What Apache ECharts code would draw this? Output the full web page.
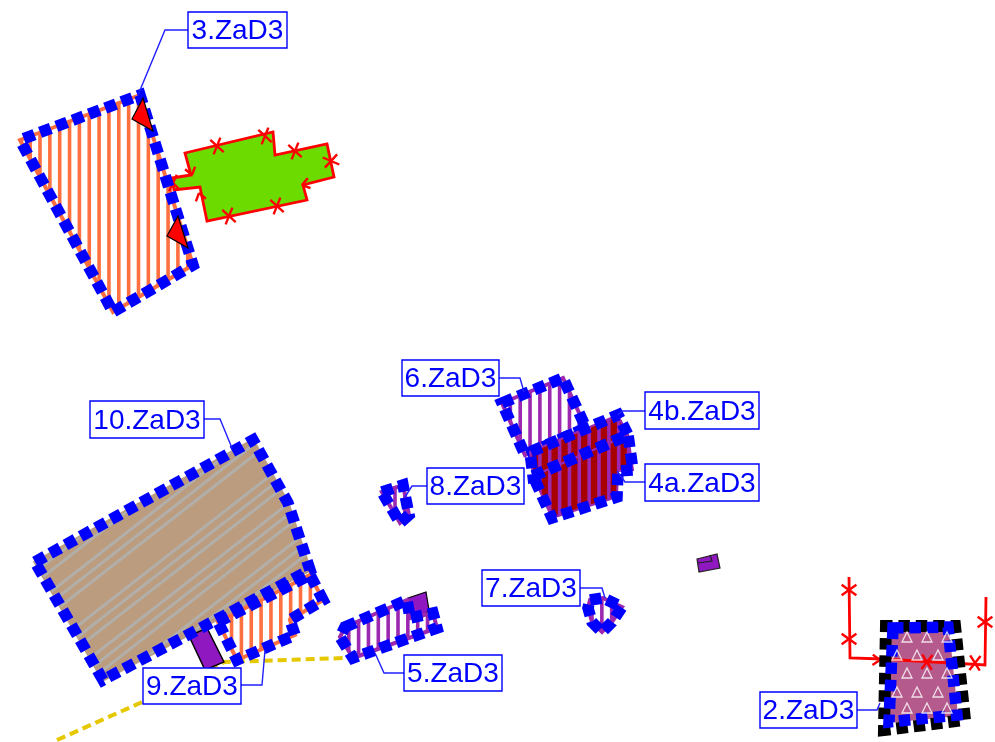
<!DOCTYPE html>
<html><head><meta charset="utf-8">
<style>html,body{margin:0;padding:0;background:#fff}#c{width:995px;height:742px}</style>
<script src="https://cdn.jsdelivr.net/npm/echarts@6/dist/echarts.min.js"></script>
</head><body><div id="c"></div>
<script>
// ---- data: map coordinates ----
const parcel2 = [[893,628],[948,627],[957,715],[889,722]];
const parcel2Outer = [[886,626],[955,626],[965,720],[884,730]];
const parcel3 = [[20,140],[140,95],[193,265],[113,312]];
const parcel4a = [[533,476],[628,435],[633,470],[618,471],[617,497],[552,518]];
const parcel4b = [[533,476],[628,435],[618,415],[530,452]];
const parcel5 = [[345,627],[407,600],[410,618],[433,613],[437,628],[353,658],[340,637]];
const parcel6 = [[502,403],[563,378],[586,428],[525,455]];
const parcel7 = [[590,600],[603,598],[622,607],[612,622],[602,632],[592,622],[588,608]];
const parcel8 = [[382,492],[403,485],[409,515],[400,523]];
const parcel9 = [[218,622],[310,575],[323,600],[290,620],[295,635],[237,660]];
const parcel10 = [[35,562],[253,440],[288,503],[310,570],[103,680]];
const greenBuilding = [[185,153],[273,132],[275,155],[327,144],[334,177],[303,185],[307,200],[207,221],[200,187],[174,190],[172,178],[191,175]];
const purpleA = [[189,636],[207,628],[224,662],[205,670]];
const purpleB = [[408,598],[426,592],[429,610],[422,618],[410,613]];
const purpleC = [[697,559],[717,554],[720,568],[699,572]];
const purpleCInner = [[698,563],[712,561],[710,555]];
const redTriangles = [[[143,98],[132,119],[153,131]],[[178,216],[167,236],[188,248]]];
const yellowRoad = [[57,740],[140,703],[205,670],[225,662],[345,658]];
const redLine = [[849,577],[850,658],[882,659],[985,665],[986,597]];
const crossMarks = [[217,146,-13],[265,136,-13],[295,151,-13],[331,161,78],[277,206,-13],[229,216,-13],[173,183,-10],[849,590,90],[849,639,90],[927,662,3],[975,663,3],[985,622,90]];
const arrowMarks = [[192,175,75],[302,185,165],[199,193,-105],[880,660,2]];
const triangleMarks = [[907,637],[927,637],[947,637],[897,655],[917,655],[938,655],[907,673],[927,673],[947,673],[897,692],[917,692],[938,692],[907,708],[927,708],[947,708]];
const grayHatch = [487,498,509,530,541,552,585,596,607,627,638,649,670,681,692];
const labelTexts = ['3.ZaD3','10.ZaD3','9.ZaD3','6.ZaD3','8.ZaD3','5.ZaD3','7.ZaD3','4b.ZaD3','4a.ZaD3','2.ZaD3'];
const labelBoxes = [[188,12,287,48],[90,401,204,438],[143,668,241,704],[402,360,499,396],[427,468,524,504],[404,655,502,691],[482,570,580,606],[645,392,759,429],[645,464,759,501],[760,692,857,728]];
const leaders = [
  [[188,30],[165,30],[138,95]],
  [[204,419],[220,419],[232,448]],
  [[241,685],[262,685],[265,650]],
  [[499,378],[520,378],[524,392]],
  [[427,486],[412,486],[405,497]],
  [[404,673],[384,673],[375,653]],
  [[580,588],[602,588],[605,598]],
  [[645,411],[622,411],[618,415]],
  [[645,482],[625,482],[617,471]],
  [[857,710],[877,710],[880,703]]
];

// ---- styles ----
const BLUE='#0000ff', ORANGE='#ff7040', PURPLE='#9c27b0', RED='#ff0000';
const DASH_ON=11.5, DASH_OFF=5.9, RING_W=11.5;
function custom(items, render){
  return {type:'custom',coordinateSystem:'cartesian2d',clip:false,silent:true,
    data:items.map((_,i)=>[i,0]),encode:{x:0,y:1},
    renderItem:(p,api)=>render(items[api.value(0)],api)};
}
const pts=(api,a)=>a.map(q=>api.coord(q));
function filled(poly,fill,stroke,lw){
  return custom([poly],(a,api)=>({type:'polygon',shape:{points:pts(api,a)},style:{fill,stroke,lineWidth:lw,lineJoin:'miter'}}));
}
function vHatch(poly,color,phase){
  return custom([poly],(a,api)=>{
    const P=pts(api,a), xs=P.map(q=>q[0]), ys=P.map(q=>q[1]);
    const y0=Math.min(...ys), y1=Math.max(...ys), kids=[];
    const step=9.85;
    for(let x=phase+Math.floor((Math.min(...xs)-phase)/step)*step;x<=Math.max(...xs);x+=step){
      kids.push({type:'line',shape:{x1:x,y1:y0,x2:x,y2:y1},style:{stroke:color,lineWidth:3.6}});
    }
    return {type:'group',clipPath:{type:'polygon',shape:{points:P}},children:kids};
  });
}
function ring(poly,color,offset){
  const lw=color==='#000'?12:RING_W;
  return custom([poly],(a,api)=>({type:'polygon',shape:{points:pts(api,a)},
    style:{fill:'none',stroke:color,lineWidth:lw,lineDash:[DASH_ON,DASH_OFF],lineDashOffset:offset||0,lineJoin:'miter',lineCap:'butt'}}));
}
function grayLines(){
  return custom([grayHatch],(cs,api)=>{
    const P=pts(api,parcel10), kids=cs.map(c=>{
      const a=api.coord([0,c+0.78*130]), b=api.coord([400,c-0.78*270]);
      return {type:'line',shape:{x1:a[0],y1:a[1],x2:b[0],y2:b[1]},style:{stroke:'#b2afaa',lineWidth:3}};
    });
    return {type:'group',clipPath:{type:'polygon',shape:{points:P}},children:kids};
  });
}
function crosses(items){
  return custom(items,(m,api)=>{
    const [x,y]=api.coord([m[0],m[1]]), L=9, kids=[];
    [55,-55].forEach(d=>{
      const t=(m[2]+d)*Math.PI/180,c=Math.cos(t)*L,s=Math.sin(t)*L;
      kids.push({type:'line',shape:{x1:x-c,y1:y-s,x2:x+c,y2:y+s},style:{stroke:RED,lineWidth:2.4}});
    });
    return {type:'group',children:kids};
  });
}
function arrows(items){
  return custom(items,(m,api)=>{
    const [x,y]=api.coord([m[0],m[1]]), L=9, kids=[];
    [145,-145].forEach(d=>{
      const t=(m[2]+d)*Math.PI/180;
      kids.push({type:'line',shape:{x1:x,y1:y,x2:x+Math.cos(t)*L,y2:y+Math.sin(t)*L},style:{stroke:RED,lineWidth:2.4}});
    });
    return {type:'group',children:kids};
  });
}
function polyline(items,stroke,lw,dash){
  return custom(items,(a,api)=>({type:'polyline',shape:{points:pts(api,a)},style:{fill:'none',stroke,lineWidth:lw,lineDash:dash||null}}));
}
function labels(){
  const items=labelTexts.map((t,i)=>({t,b:labelBoxes[i]}));
  return custom(items,(it,api)=>{
    const a=api.coord([it.b[0],it.b[1]]), b=api.coord([it.b[2],it.b[3]]);
    return {type:'group',children:[
      {type:'rect',shape:{x:a[0],y:a[1],width:b[0]-a[0],height:b[1]-a[1]},style:{fill:'#fff',stroke:BLUE,lineWidth:1.4}},
      {type:'text',style:{x:(a[0]+b[0])/2,y:(a[1]+b[1])/2+1.5,text:it.t,fill:BLUE,align:'center',verticalAlign:'middle',font:'28px "Liberation Sans", Arial, sans-serif'}}
    ]};
  });
}

const series=[
  polyline([yellowRoad],'#e6c800',4,[9,5]),
  // parcel 3 and green building
  vHatch(parcel3,ORANGE,0.6),
  filled(parcel3,'none',ORANGE,4),
  filled(greenBuilding,'#6cdc00',RED,2.8),
  crosses(crossMarks.slice(0,7)),
  arrows(arrowMarks.slice(0,3)),
  ring(parcel3,BLUE,-4),
  custom(redTriangles,(a,api)=>({type:'polygon',shape:{points:pts(api,a)},style:{fill:RED,stroke:'#000',lineWidth:1.2}})),
  // parcels 10, 9
  filled(parcel10,'#bc9c7e','#bc9c7e',3),
  grayLines(),
  vHatch(parcel9,ORANGE,5),
  filled(parcel9,'none',ORANGE,4),
  filled(purpleA,'#9018c0','#000',1.4),
  ring(parcel10,BLUE,0),
  ring(parcel9,BLUE,0),
  // parcels 6, 4b, 4a
  vHatch(parcel6,PURPLE,8),
  filled(parcel6,'none',PURPLE,4),
  ring(parcel6,BLUE,0),
  filled(parcel4b,'#a80000',PURPLE,2),
  vHatch(parcel4b,PURPLE,8),
  filled(parcel4a,'#a80000',PURPLE,2),
  vHatch(parcel4a,PURPLE,8),
  ring(parcel4b,BLUE,0),
  ring(parcel4a,BLUE,0),
  // parcels 8, 7, 5
  vHatch(parcel8,PURPLE,1),
  filled(parcel8,'none',PURPLE,4),
  ring(parcel8,BLUE,0),
  vHatch(parcel7,PURPLE,1),
  filled(parcel7,'none',PURPLE,4),
  ring(parcel7,BLUE,0),
  filled(purpleB,'#9018c0','#000',1.2),
  vHatch(parcel5,PURPLE,4),
  filled(parcel5,'none',PURPLE,4),
  ring(parcel5,BLUE,0),
  // small purple
  filled(purpleC,'#9018c0','#222',1.2),
  polyline([purpleCInner],'#222',1.2),
  // parcel 2
  filled(parcel2,'#b55a8c','#b55a8c',2),
  {type:'scatter',silent:true,data:triangleMarks,symbol:'triangle',symbolSize:10,
    itemStyle:{color:'rgba(0,0,0,0)',borderColor:'#fff',borderWidth:1.3}},
  polyline([redLine],RED,2.8),
  crosses(crossMarks.slice(7)),
  arrows(arrowMarks.slice(3)),
  ring(parcel2Outer,'#000',5),
  ring(parcel2,BLUE,1),
  // leaders and labels
  polyline(leaders,'#2020ff',1.4),
  labels()
];

const chart=echarts.init(document.getElementById('c'),null,{renderer:'canvas'});
chart.setOption({
  animation:false,backgroundColor:'#fff',
  grid:{left:0,right:0,top:0,bottom:0,containLabel:false},
  xAxis:{type:'value',min:0,max:995,show:false},
  yAxis:{type:'value',min:0,max:742,inverse:true,show:false},
  tooltip:{show:false},
  series
});
</script></body></html>
